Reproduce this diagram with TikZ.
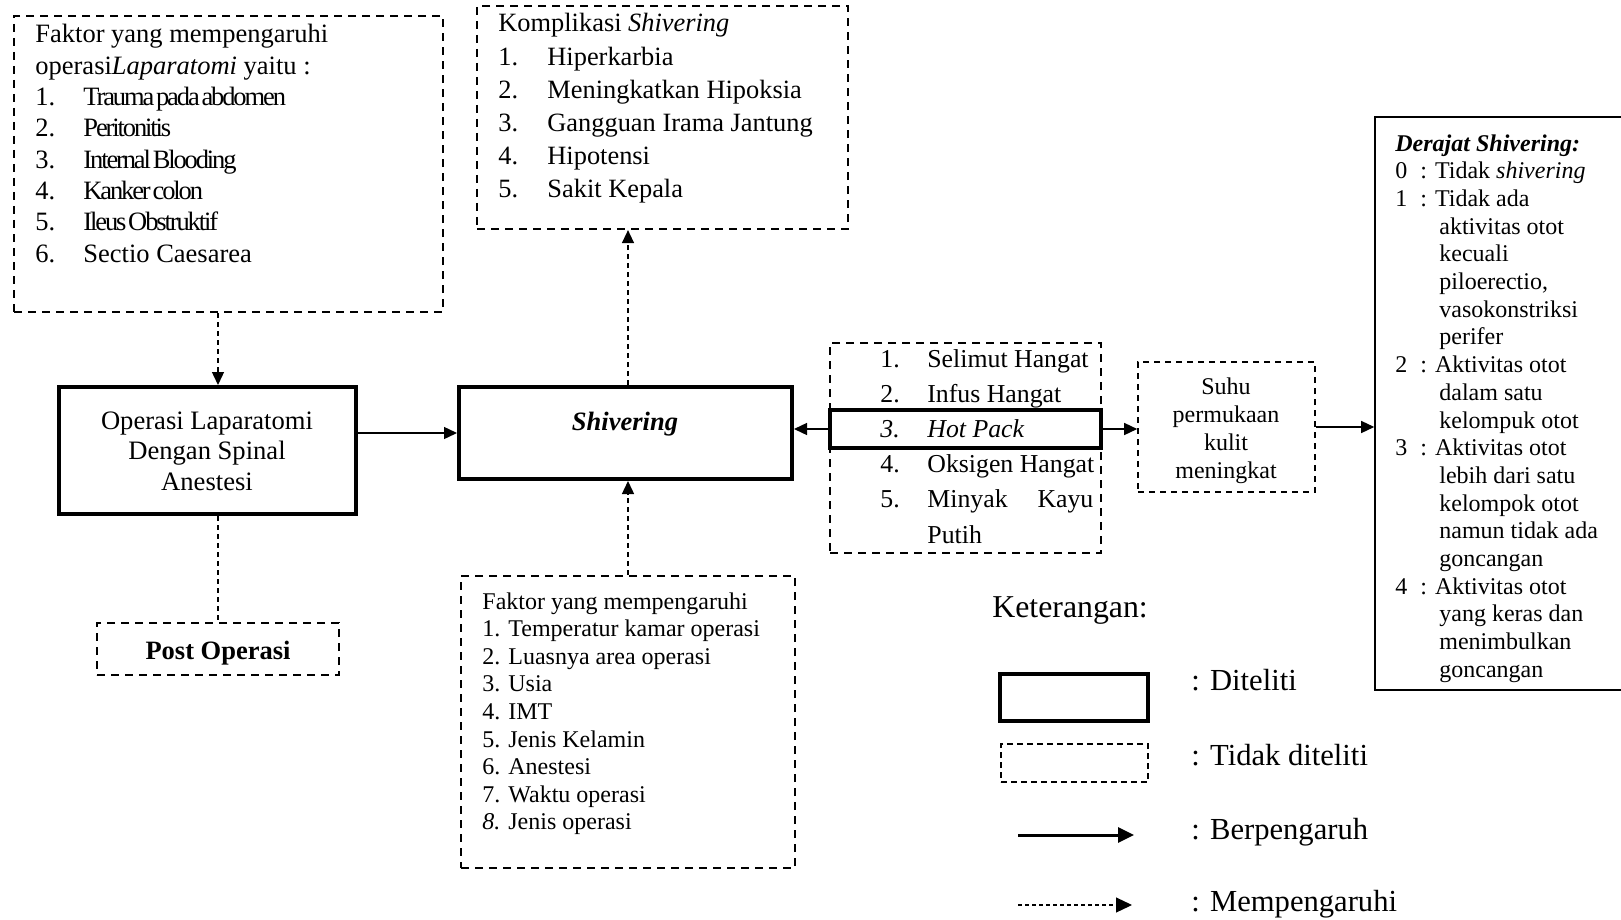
\documentclass[tikz,border=0pt]{standalone}
\usepackage{fontspec}
\setmainfont{Liberation Serif}
\newfontfamily\tightfont[LetterSpace=-8,WordSpace=0.4]{Liberation Serif}
\usetikzlibrary{arrows.meta}
\newcommand{\ind}{\hspace*{9.5pt}}

\begin{document}
\begin{tikzpicture}[x=0.5pt,y=-0.5pt,
  solidbox/.style={draw,line width=2pt,inner sep=0pt},
  dashbox/.style={draw,line width=1.1pt,dash pattern=on 4pt off 3pt,inner sep=0pt},
  txt/.style={inner sep=0pt},
  arr/.style={line width=0.7pt,-{Triangle[length=6.5pt,width=6pt]}},
  dline/.style={line width=0.7pt,dash pattern=on 2.5pt off 2pt},
  darr/.style={arr,dash pattern=on 2.5pt off 2pt}]
\useasboundingbox (0,0) rectangle (1621,920);
\fill[white] (0,0) rectangle (1621,920);
\clip (0,0) rectangle (1621,920);

\node[dashbox,minimum width=214.5pt,minimum height=148pt] (tl) at (228.5,164) {};
\node[txt,anchor=base west] (tltext) at (35,43) {\fontsize{13.25}{15.65}\selectfont
  \begin{tabular}[t]{@{}p{24pt}@{}l@{}}
    \multicolumn{2}{@{}l@{}}{Faktor yang mempengaruhi}\\
    \multicolumn{2}{@{}l@{}}{operasi\textit{Laparatomi} yaitu :}\\
    1. & {\tightfont Trauma pada abdomen}\\
    2. & {\tightfont Peritonitis}\\
    3. & {\tightfont Internal Blooding}\\
    4. & {\tightfont Kanker colon}\\
    5. & {\tightfont Ileus Obstruktif}\\
    6. & Sectio Caesarea
  \end{tabular}};

\node[dashbox,minimum width=185.5pt,minimum height=111.5pt] (komp) at (662.5,117.5) {};
\node[txt,anchor=base west] (komptext) at (498,32) {\fontsize{13.2}{16.6}\selectfont
  \begin{tabular}[t]{@{}p{24.5pt}@{}l@{}}
    \multicolumn{2}{@{}l@{}}{Komplikasi \textit{Shivering}}\\
    1. & Hiperkarbia\\
    2. & Meningkatkan Hipoksia\\
    3. & Gangguan Irama Jantung\\
    4. & Hipotensi\\
    5. & Sakit Kepala
  \end{tabular}};

\node[solidbox,minimum width=148.5pt,minimum height=63.5pt] (op) at (207.5,450.5) {};
\node[txt,anchor=base] (optext) at (207,429) {\fontsize{13.3}{15.25}\selectfont
  \begin{tabular}[t]{@{}c@{}}
    Operasi Laparatomi\\
    Dengan Spinal\\
    Anestesi
  \end{tabular}};

\node[solidbox,minimum width=166.5pt,minimum height=46pt] (shiv) at (625.5,433) {};
\node[txt,anchor=base] (shivtext) at (625,430) {\fontsize{13.25}{15.5}\selectfont\textbf{\textit{Shivering}}};

\node[dashbox,minimum width=121pt,minimum height=26pt] (post) at (218,649) {};
\node[txt,anchor=base] (posttext) at (218,659) {\fontsize{13.25}{15.5}\selectfont\textbf{Post Operasi}};

\node[dashbox,minimum width=167pt,minimum height=146pt] (fak) at (628,722) {};
\node[txt,anchor=base west] (faktext) at (482,609) {\fontsize{12}{13.8}\selectfont
  \begin{tabular}[t]{@{}l@{}}
    Faktor yang mempengaruhi\\
    1. Temperatur kamar operasi\\
    2. Luasnya area operasi\\
    3. Usia\\
    4. IMT\\
    5. Jenis Kelamin\\
    6. Anestesi\\
    7. Waktu operasi\\
    \textit{8.} Jenis operasi
  \end{tabular}};

\node[dashbox,minimum width=135.5pt,minimum height=105pt] (hotlist) at (965.5,448) {};
\node[solidbox,minimum width=135.5pt,minimum height=19pt] (hot) at (965.5,429) {};
\node[txt,anchor=base west] (hottext) at (880,367) {\fontsize{12.9}{17.6}\selectfont
  \begin{tabular}[t]{@{}p{23.5pt}@{}l@{}}
    1. & Selimut Hangat\\
    2. & Infus Hangat\\
    \textit{3.} & \textit{Hot Pack}\\
    4. & Oksigen Hangat\\
    5. & \makebox[83pt][s]{Minyak\hfill Kayu}\\
       & Putih
  \end{tabular}};

\node[dashbox,line width=0.8pt,dash pattern=on 3pt off 2.5pt,minimum width=88.5pt,minimum height=65pt] (suhu) at (1226.5,427) {};
\node[txt,anchor=base] (suhutext) at (1226,394) {\fontsize{12}{14.15}\selectfont
  \begin{tabular}[t]{@{}c@{}}
    Suhu\\
    permukaan\\
    kulit\\
    meningkat
  \end{tabular}};

\node[draw,line width=0.8pt,inner sep=0pt,minimum width=132.5pt,minimum height=286.5pt] (der) at (1507.5,403.5) {};
\node[txt,anchor=base west] (dertext) at (1395,151) {\fontsize{12}{13.85}\selectfont
  \begin{tabular}[t]{@{}p{12.5pt}@{}l@{}}
    \multicolumn{2}{@{}l@{}}{\textbf{\textit{Derajat Shivering:}}}\\
    0 & : Tidak \textit{shivering}\\
    1 & : Tidak ada\\
      & \ind aktivitas otot\\
      & \ind kecuali\\
      & \ind piloerectio,\\
      & \ind vasokonstriksi\\
      & \ind perifer\\
    2 & : Aktivitas otot\\
      & \ind dalam satu\\
      & \ind kelompuk otot\\
    3 & : Aktivitas otot\\
      & \ind lebih dari satu\\
      & \ind kelompok otot\\
      & \ind namun tidak ada\\
      & \ind goncangan\\
    4 & : Aktivitas otot\\
      & \ind yang keras dan\\
      & \ind menimbulkan\\
      & \ind goncangan
  \end{tabular}};

\draw[darr] (tl.south -| post.north) -- (op.north -| post.north);
\draw[dline] (op.south -| post.north) -- (post.north);
\draw[arr] (shiv.west -| op.east) -- (shiv.west);
\draw[darr] (fak.north) -- (fak.north |- shiv.south);
\draw[darr] (fak.north |- shiv.north) -- (fak.north |- komp.south);
\draw[arr] (hot.west) -- (hot.west -| shiv.east);
\draw[arr] (hot.east) -- (hot.east -| suhu.west);
\draw[arr] (suhu.east) -- (suhu.east -| der.west);

\node[txt,anchor=base west] (ket) at (992,617) {\fontsize{15.9}{18}\selectfont Keterangan:};
\node[solidbox,minimum width=74pt,minimum height=23.5pt] (legsolid) at (1074,697.5) {};
\node[dashbox,line width=1pt,dash pattern=on 3pt off 2pt,minimum width=73.5pt,minimum height=19pt] (legdash) at (1074.5,763) {};
\coordinate (la1) at (1018,835);
\coordinate (la2) at (1134,835);
\coordinate (lb1) at (1018,905);
\coordinate (lb2) at (1132,905);
\draw[line width=1.5pt,-{Triangle[length=8pt,width=7.5pt]}] (la1) -- (la2);
\draw[line width=0.6pt,dash pattern=on 2pt off 1.5pt,-{Triangle[length=8pt,width=7.5pt]}] (lb1) -- (lb2);
\node[txt,anchor=base west] (ket1) at (1191,690) {\fontsize{15.3}{18}\selectfont : Diteliti};
\node[txt,anchor=base west] (ket2) at (1191,765) {\fontsize{15.3}{18}\selectfont : Tidak diteliti};
\node[txt,anchor=base west] (ket3) at (1191,839) {\fontsize{15.3}{18}\selectfont : Berpengaruh};
\node[txt,anchor=base west] (ket4) at (1191,911) {\fontsize{15.3}{18}\selectfont : Mempengaruhi};
\end{tikzpicture}
\end{document}
